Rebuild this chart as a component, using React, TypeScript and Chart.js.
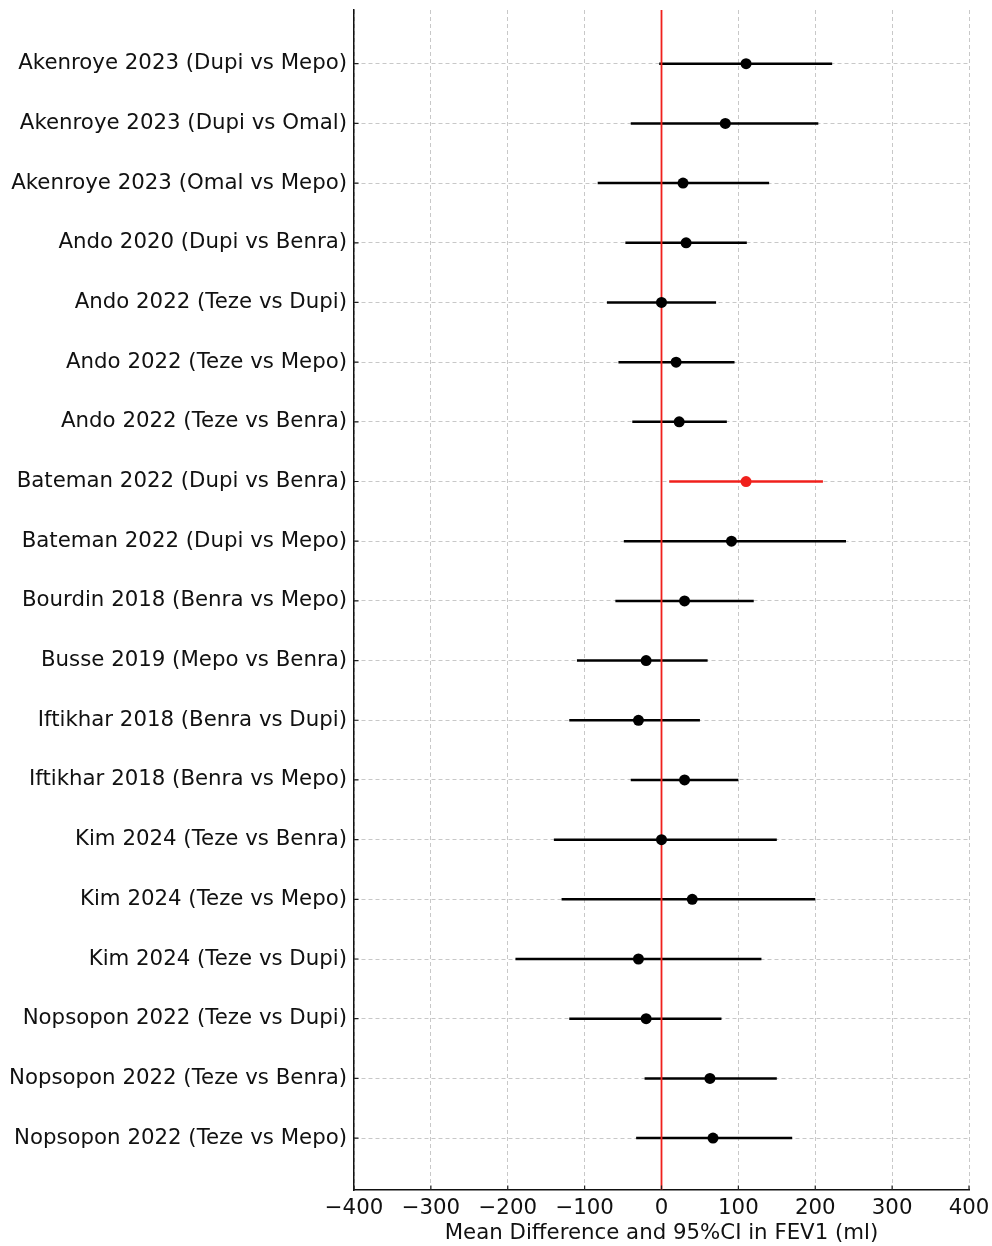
import React, { useEffect, useRef } from "react";
import { Chart, registerables } from "chart.js";

Chart.register(...registerables);

const studies = [
  "Akenroye 2023 (Dupi vs Mepo)",
  "Akenroye 2023 (Dupi vs Omal)",
  "Akenroye 2023 (Omal vs Mepo)",
  "Ando 2020 (Dupi vs Benra)",
  "Ando 2022 (Teze vs Dupi)",
  "Ando 2022 (Teze vs Mepo)",
  "Ando 2022 (Teze vs Benra)",
  "Bateman 2022 (Dupi vs Benra)",
  "Bateman 2022 (Dupi vs Mepo)",
  "Bourdin 2018 (Benra vs Mepo)",
  "Busse 2019 (Mepo vs Benra)",
  "Iftikhar 2018 (Benra vs Dupi)",
  "Iftikhar 2018 (Benra vs Mepo)",
  "Kim 2024 (Teze vs Benra)",
  "Kim 2024 (Teze vs Mepo)",
  "Kim 2024 (Teze vs Dupi)",
  "Nopsopon 2022 (Teze vs Dupi)",
  "Nopsopon 2022 (Teze vs Benra)",
  "Nopsopon 2022 (Teze vs Mepo)",
];
const meanDiff = [110, 83, 28, 32, 0, 19, 23, 110, 91, 30, -20, -30, 30, 0, 40, -30, -20, 63, 67];
const lowerCI = [-3, -40, -83, -47, -71, -56, -38, 10, -49, -60, -110, -120, -40, -140, -130, -190, -120, -22, -33];
const upperCI = [222, 204, 140, 111, 71, 95, 85, 210, 240, 120, 60, 50, 100, 150, 200, 130, 78, 150, 170];
const highlighted = [7];
const xTicks = [-400, -300, -200, -100, 0, 100, 200, 300, 400];

const FONT = "'DejaVu Sans', sans-serif";
const FS = 21.3;

const innerTicks = {
  id: "innerTicks",
  afterDraw(chart: any) {
    const { ctx, chartArea, scales } = chart;
    ctx.save();
    ctx.strokeStyle = "#222";
    ctx.lineWidth = 1.2;
    ctx.beginPath();
    for (const t of scales.y.ticks) {
      const y = scales.y.getPixelForValue(t.value);
      ctx.moveTo(chartArea.left, y);
      ctx.lineTo(chartArea.left + 4.5, y);
    }
    for (const t of scales.x.ticks) {
      const x = scales.x.getPixelForValue(t.value);
      ctx.moveTo(x, chartArea.bottom);
      ctx.lineTo(x, chartArea.bottom - 4.5);
    }
    ctx.stroke();
    ctx.restore();
  },
};

export default function App() {
  const ref = useRef<HTMLCanvasElement | null>(null);
  useEffect(() => {
    if (!ref.current) return;
    const colorFor = (i: number) => (highlighted.includes(i) ? "#f0201c" : "#000000");
    const ciSets = studies.map((_, i) => ({
      type: "line" as const,
      data: [
        { x: lowerCI[i], y: i },
        { x: upperCI[i], y: i },
      ],
      borderColor: colorFor(i),
      borderWidth: 2.5,
      pointRadius: 0,
      showLine: true,
      order: 2,
    }));
    const chart = new Chart(ref.current, {
      type: "scatter",
      data: {
        datasets: [
          {
            type: "scatter" as const,
            data: studies.map((_, i) => ({ x: meanDiff[i], y: i })),
            pointRadius: 5.5,
            pointBackgroundColor: studies.map((_, i) => colorFor(i)),
            pointBorderColor: studies.map((_, i) => colorFor(i)),
            pointBorderWidth: 0,
            order: 0,
          },
          {
            type: "line" as const,
            data: [
              { x: 0, y: -0.9 },
              { x: 0, y: 18.87 },
            ],
            borderColor: "#f0201c",
            borderWidth: 1.8,
            pointRadius: 0,
            showLine: true,
            order: 1,
          },
          ...ciSets,
        ] as any,
      },
      plugins: [innerTicks],
      options: {
        animation: false,
        responsive: false,
        maintainAspectRatio: false,
        layout: { padding: { top: 10, right: 23, left: 0, bottom: 0 } },
        plugins: { legend: { display: false }, tooltip: { enabled: false } },
        scales: {
          x: {
            type: "linear",
            min: -400,
            max: 400,
            afterBuildTicks: (s: any) => {
              s.ticks = xTicks.map((v) => ({ value: v }));
            },
            afterFit: (s: any) => {
              s.height = 56;
              s.paddingLeft = 0;
              s.paddingRight = 0;
            },
            ticks: {
              color: "#111",
              font: { family: FONT, size: FS },
              padding: 6,
              maxRotation: 0,
              callback: (v: any) => String(v).replace("-", "\u2212"),
            },
            title: {
              display: true,
              text: "Mean Difference and 95%CI in FEV1 (ml)",
              color: "#111",
              font: { family: FONT, size: FS },
              padding: { top: 0, bottom: 0 },
            },
            grid: {
              color: "#c8c8c8",
              lineWidth: 1,
              drawTicks: false,
            },
            border: { display: true, color: "#111", width: 1.5, dash: [4, 3] },
          },
          y: {
            type: "linear",
            reverse: true,
            min: -0.9,
            max: 18.87,
            afterBuildTicks: (s: any) => {
              s.ticks = studies.map((_, i) => ({ value: i }));
            },
            afterFit: (s: any) => {
              s.width = 354;
              s.paddingTop = 0;
              s.paddingBottom = 0;
            },
            ticks: {
              color: "#111",
              font: { family: FONT, size: FS },
              padding: 7,
              autoSkip: false,
              callback: (v: any) => studies[v as number] ?? "",
            },
            grid: {
              color: "#c8c8c8",
              lineWidth: 1,
              drawTicks: false,
            },
            border: { display: true, color: "#111", width: 1.5, dash: [4, 3] },
          },
        },
      },
    });
    return () => chart.destroy();
  }, []);
  return (
    <div
      style={{
        position: "absolute",
        left: 0,
        top: 0,
        width: 992,
        height: 1246,
        overflow: "hidden",
        background: "#fff",
      }}
    >
      <canvas
        ref={ref}
        width={992}
        height={1246}
        style={{ position: "absolute", left: 0, top: 0, width: 992, height: 1246 }}
      />
    </div>
  );
}
